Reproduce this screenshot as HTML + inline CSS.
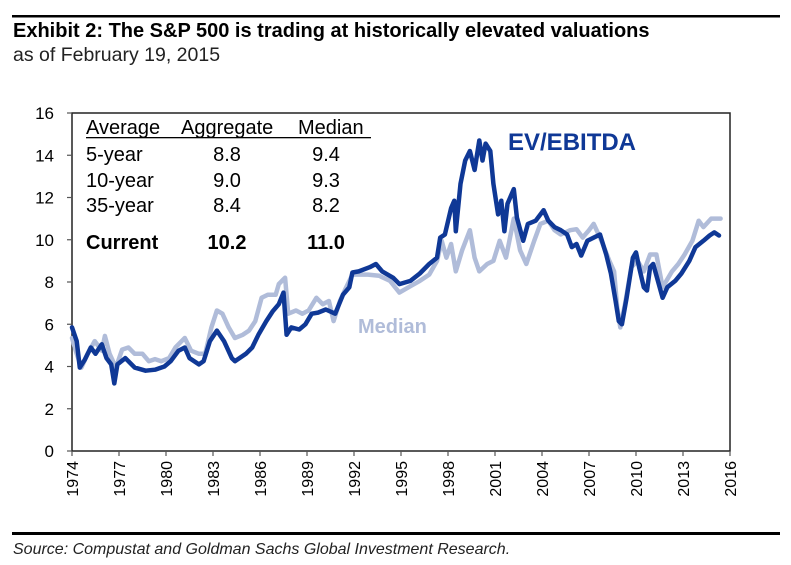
<!DOCTYPE html>
<html><head><meta charset="utf-8"><style>
body{margin:0;background:#fff;width:791px;height:560px;overflow:hidden;font-family:"Liberation Sans",Arial,sans-serif}
</style></head><body>
<svg width="791" height="560" xmlns="http://www.w3.org/2000/svg" font-family="Liberation Sans, Arial, sans-serif">
<rect x="12" y="15" width="768" height="2.5" fill="#000"/>
<text x="13" y="37" font-size="20" font-weight="bold" fill="#000">Exhibit 2: The S&amp;P 500 is trading at historically elevated valuations</text>
<text x="13" y="61" font-size="19.5" fill="#222">as of February 19, 2015</text>
<rect x="72" y="113" width="658" height="338" fill="none" stroke="#222" stroke-width="1.5"/>
<g id="yaxis"></g>
<g id="xaxis"></g>
<g id="series"></g>
<g font-size="20" fill="#000">
<text x="86" y="134">Average</text>
<text x="181" y="134">Aggregate</text>
<text x="298" y="134">Median</text>
<rect x="86" y="137" width="285" height="1.3" fill="#000"/>
<text x="86" y="161">5-year</text><text x="227" y="161" text-anchor="middle">8.8</text><text x="326" y="161" text-anchor="middle">9.4</text>
<text x="86" y="187">10-year</text><text x="227" y="187" text-anchor="middle">9.0</text><text x="326" y="187" text-anchor="middle">9.3</text>
<text x="86" y="212">35-year</text><text x="227" y="212" text-anchor="middle">8.4</text><text x="326" y="212" text-anchor="middle">8.2</text>
<g font-weight="bold"><text x="86" y="249">Current</text><text x="227" y="249" text-anchor="middle">10.2</text><text x="326" y="249" text-anchor="middle">11.0</text></g>
</g>
<text x="508" y="150" font-size="24" font-weight="bold" fill="#0f3896">EV/EBITDA</text>
<text x="358" y="333" font-size="20" font-weight="bold" fill="#b0bcd9">Median</text>
<rect x="12" y="532" width="768" height="3" fill="#000"/>
<text x="13" y="554" font-size="16" font-style="italic" fill="#222">Source: Compustat and Goldman Sachs Global Investment Research.</text>
</svg>
<script>
const yTicks=[0,2,4,6,8,10,12,14,16];
const xTicks=[1974,1977,1980,1983,1986,1989,1992,1995,1998,2001,2004,2007,2010,2013,2016];
const evYears=[1974.0,1974.3,1974.5,1974.8,1975.2,1975.5,1975.9,1976.2,1976.5,1976.7,1976.9,1977.4,1978.0,1978.7,1979.3,1979.9,1980.3,1980.8,1981.2,1981.5,1982.1,1982.4,1982.8,1983.25,1983.7,1984.2,1984.4,1985.1,1985.5,1985.9,1986.4,1986.8,1987.2,1987.5,1987.7,1988.0,1988.5,1988.9,1989.3,1989.7,1990.2,1990.8,1991.3,1991.7,1991.9,1992.3,1993.0,1993.4,1993.8,1994.5,1994.9,1995.6,1996.2,1996.8,1997.3,1997.5,1997.8,1998.2,1998.4,1998.5,1998.8,1999.1,1999.4,1999.7,2000.0,2000.2,2000.4,2000.7,2000.9,2001.2,2001.4,2001.6,2001.8,2002.2,2002.4,2002.8,2003.1,2003.6,2004.1,2004.4,2004.8,2005.2,2005.6,2005.9,2006.2,2006.5,2006.9,2007.3,2007.7,2008.1,2008.4,2008.7,2008.9,2009.1,2009.4,2009.8,2010.0,2010.2,2010.5,2010.7,2010.9,2011.1,2011.4,2011.7,2012.0,2012.5,2012.9,2013.4,2013.8,2014.3,2014.7,2015.0,2015.3];
const evValues=[5.85,5.2,3.95,4.3,4.9,4.6,5.05,4.4,4.1,3.2,4.1,4.4,3.95,3.8,3.85,4.0,4.25,4.75,4.9,4.4,4.1,4.25,5.2,5.7,5.2,4.4,4.25,4.6,4.9,5.5,6.15,6.6,6.95,7.5,5.5,5.85,5.75,6.0,6.5,6.55,6.7,6.5,7.4,7.75,8.45,8.5,8.7,8.85,8.5,8.2,7.9,8.05,8.4,8.85,9.15,10.1,10.25,11.5,11.85,10.4,12.65,13.75,14.2,13.3,14.7,13.75,14.55,14.2,12.65,11.2,11.85,10.4,11.7,12.4,11.05,9.95,10.75,10.9,11.4,10.9,10.6,10.45,10.25,9.65,9.8,9.25,9.95,10.1,10.25,9.3,8.4,7.1,6.15,6.0,7.25,9.15,9.4,8.7,7.75,7.6,8.7,8.85,8.05,7.25,7.75,8.05,8.4,9.0,9.65,9.95,10.2,10.35,10.2];
const medYears=[1974.0,1974.3,1974.6,1975.0,1975.45,1975.9,1976.1,1976.4,1976.8,1977.2,1977.6,1978.0,1978.5,1978.9,1979.3,1979.7,1980.2,1980.6,1981.0,1981.2,1981.6,1982.1,1982.5,1982.9,1983.25,1983.6,1984.0,1984.4,1984.9,1985.3,1985.7,1986.1,1986.5,1987.0,1987.2,1987.4,1987.6,1987.8,1988.3,1988.7,1989.1,1989.6,1990.0,1990.4,1990.7,1991.1,1991.5,1991.9,1992.3,1992.9,1993.6,1994.3,1994.9,1995.6,1996.2,1996.8,1997.3,1997.6,1997.9,1998.2,1998.5,1998.9,1999.4,1999.7,2000.0,2000.5,2000.9,2001.3,2001.7,2002.2,2002.6,2003.0,2003.5,2003.9,2004.4,2004.8,2005.2,2005.8,2006.2,2006.6,2007.0,2007.3,2007.8,2008.3,2008.6,2008.8,2009.0,2009.3,2009.7,2010.1,2010.5,2010.9,2011.3,2011.7,2012.3,2012.7,2013.1,2013.6,2014.0,2014.3,2014.8,2015.4];
const medValues=[5.35,4.6,3.95,4.6,5.2,4.75,5.45,4.6,3.95,4.8,4.9,4.6,4.6,4.25,4.35,4.25,4.4,4.9,5.2,5.35,4.75,4.6,4.6,5.85,6.65,6.5,5.85,5.35,5.5,5.7,6.15,7.25,7.4,7.4,7.9,8.05,8.2,6.5,6.65,6.5,6.65,7.25,6.95,7.1,6.15,7.1,7.75,8.35,8.35,8.35,8.3,8.05,7.5,7.8,8.05,8.35,9.0,9.95,9.15,9.8,8.5,9.5,10.45,9.15,8.5,8.85,9.0,9.95,9.15,11.0,9.5,8.85,9.95,10.75,10.9,10.45,10.25,10.45,10.5,10.1,10.45,10.75,9.95,9.0,8.5,6.8,5.85,6.95,8.7,9.0,8.5,9.3,9.3,7.75,8.5,8.85,9.3,9.95,10.9,10.6,11.0,11.0];
const NS='http://www.w3.org/2000/svg';
const xOf=y=>72+(y-1974)*(658/42);
const yOf=v=>451-v*(338/16);
const ya=document.getElementById('yaxis'),xa=document.getElementById('xaxis'),sg=document.getElementById('series');
function mk(tag,attrs,parent){const e=document.createElementNS(NS,tag);for(const k in attrs)e.setAttribute(k,attrs[k]);parent.appendChild(e);return e;}
yTicks.forEach(v=>{
  const t=mk('line',{x1:67,x2:72,y1:yOf(v),y2:yOf(v),stroke:'#555','stroke-width':1.2},ya);
  
  
  const l=mk('text',{x:54,y:yOf(v)+6,'text-anchor':'end','font-size':17,fill:'#000'},ya);
  l.textContent=v;
  
  
});
xTicks.forEach(yr=>{
  const x=xOf(yr);
  const t=mk('line',{x1:x,x2:x,y1:451,y2:456,stroke:'#555','stroke-width':1.2},xa);
  
  
  const l=mk('text',{x:0,y:0,'text-anchor':'end','font-size':16,fill:'#000',transform:`translate(${x+6},${461}) rotate(-90)`},xa);
  l.textContent=yr;
  
  
});
function line(xs,vs,color,name){
  const d=xs.map((x,i)=>(i?'L':'M')+xOf(x).toFixed(1)+' '+yOf(vs[i]).toFixed(1)).join(' ');
  const p=mk('path',{d:d,fill:'none',stroke:color,'stroke-width':4.5,'stroke-linejoin':'round','stroke-linecap':'round'},sg);
  
  
}
line(medYears,medValues,'#b0bcd9','median-line');
line(evYears,evValues,'#0f3896','ev-ebitda-line');
</script>
</body></html>
